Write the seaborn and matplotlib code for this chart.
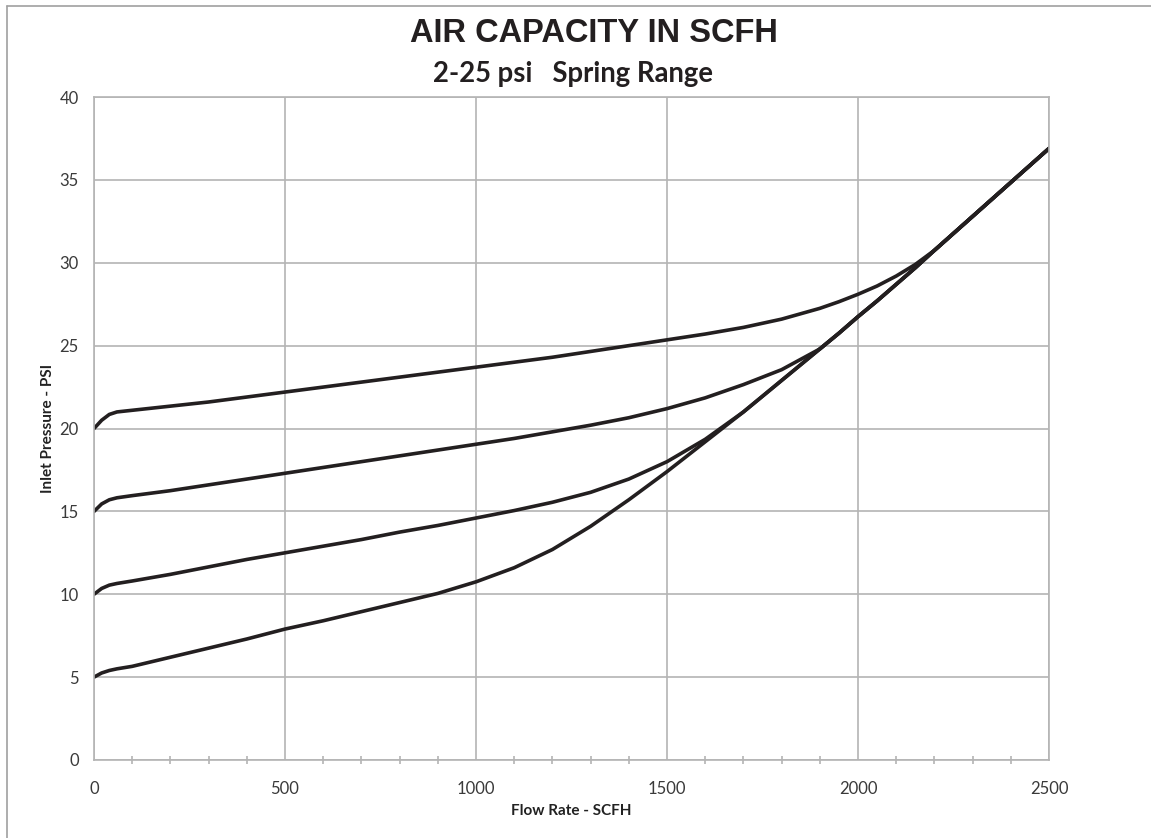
import pandas as pd
import numpy as np

import seaborn as sns
import matplotlib.pyplot as plt
from matplotlib.lines import Line2D
from matplotlib.ticker import MultipleLocator


# flow rate grid (SCFH), shared by all four set-point curves
flow = [0, 20, 40, 60, 100, 200, 300, 400, 500, 600, 700, 800, 900, 1000,
        1100, 1200, 1300, 1400, 1500, 1600, 1700, 1800, 1900, 1950, 2000,
        2050, 2100, 2150, 2200, 2300, 2400, 2500]

# inlet pressure (psi), one list per curve
psi_20 = [20.0, 20.5, 20.85, 21.0, 21.1, 21.35, 21.6, 21.9, 22.2, 22.5, 22.8, 23.1, 23.4, 23.7,
          24.0, 24.3, 24.65, 25.0, 25.35, 25.7, 26.1, 26.6, 27.25, 27.65, 28.1,
          28.6, 29.2, 29.9, 30.75, 32.8, 34.85, 36.9]
psi_15 = [15.0, 15.45, 15.7, 15.82, 15.95, 16.25, 16.6, 16.95, 17.3, 17.65, 18.0, 18.35, 18.7, 19.05,
          19.4, 19.8, 20.2, 20.65, 21.2, 21.85, 22.65, 23.55, 24.8, 25.75, 26.75,
          27.7, 28.7, 29.7, 30.75, 32.8, 34.85, 36.9]
psi_10 = [10.0, 10.35, 10.55, 10.65, 10.8, 11.2, 11.65, 12.1, 12.5, 12.9, 13.3, 13.75, 14.15, 14.6,
          15.05, 15.55, 16.15, 16.95, 18.0, 19.35, 21.0, 22.9, 24.8, 25.75, 26.75,
          27.7, 28.7, 29.7, 30.75, 32.8, 34.85, 36.9]
psi_5 = [5.0, 5.25, 5.4, 5.5, 5.65, 6.2, 6.75, 7.3, 7.9, 8.4, 8.95, 9.5, 10.05, 10.75,
         11.6, 12.7, 14.1, 15.7, 17.4, 19.2, 21.0, 22.9, 24.8, 25.75, 26.75,
         27.7, 28.7, 29.7, 30.75, 32.8, 34.85, 36.9]

curve_names = ['20 psi', '15 psi', '10 psi', '5 psi']
x_ticks = [0, 500, 1000, 1500, 2000, 2500]
y_ticks = [0, 5, 10, 15, 20, 25, 30, 35, 40]

df = pd.concat([
    pd.DataFrame({'flow': flow, 'psi': vals, 'curve': name})
    for name, vals in zip(curve_names, [psi_20, psi_15, psi_10, psi_5])
])

sns.set_style('white')
plt.rcParams['font.family'] = ['Lato', 'DejaVu Sans']

grid_col = '#b4b4b4'
text_col = '#3a3a3a'

fig = plt.figure(figsize=(11.51, 8.38), dpi=100)
ax = fig.add_axes([0.0817, 0.0931, 0.9114 - 0.0817, 0.8842 - 0.0931])

sns.lineplot(data=df, x='flow', y='psi', hue='curve', units='curve', estimator=None,
             palette=['#231f20'] * 4, linewidth=2.6, legend=False, ax=ax)
for ln in ax.get_lines():
    ln.set_solid_joinstyle('round')

ax.set_xlim(0, 2500)
ax.set_ylim(0, 40)
ax.set_xticks(x_ticks)
ax.set_yticks(y_ticks)
ax.xaxis.set_minor_locator(MultipleLocator(100))
ax.grid(True, which='major', color=grid_col, linewidth=1.2)
for s in ax.spines.values():
    s.set_color(grid_col)
    s.set_linewidth(1.2)

ax.tick_params(axis='both', which='major', labelsize=12, labelcolor=text_col,
               color=grid_col, width=1.2, length=5, direction='out', pad=6)
ax.tick_params(axis='x', which='minor', bottom=True, color=grid_col, width=1.2,
               length=6, direction='inout')
ax.tick_params(axis='x', which='major', pad=10)

ax.set_xlabel('Flow Rate - SCFH', fontsize=11, fontweight='bold', color='#222222', labelpad=5)
ax.set_ylabel('Inlet Pressure - PSI', fontsize=11, fontweight='bold', color='#222222', labelpad=3)

fig.text(0.516, 1 - 33 / 838, 'AIR CAPACITY IN SCFH', ha='center', va='center',
         fontsize=23.5, fontweight='bold', family='Liberation Sans', color='#231f20')
fig.text(0.498, 1 - 74 / 838, '2-25 psi   Spring Range', ha='center', va='center',
         fontsize=19.8, fontweight='bold', color='#231f20')

# outer frame of the original chart (left and top edges visible)
fig.add_artist(Line2D([0.0061, 0.0061], [0, 1 - 6 / 838], transform=fig.transFigure,
                      color='#a0a0a0', linewidth=1.2))
fig.add_artist(Line2D([0.0061, 1], [1 - 6 / 838, 1 - 6 / 838], transform=fig.transFigure,
                      color='#a0a0a0', linewidth=1.2))

fig.savefig('out.png', dpi=100)
